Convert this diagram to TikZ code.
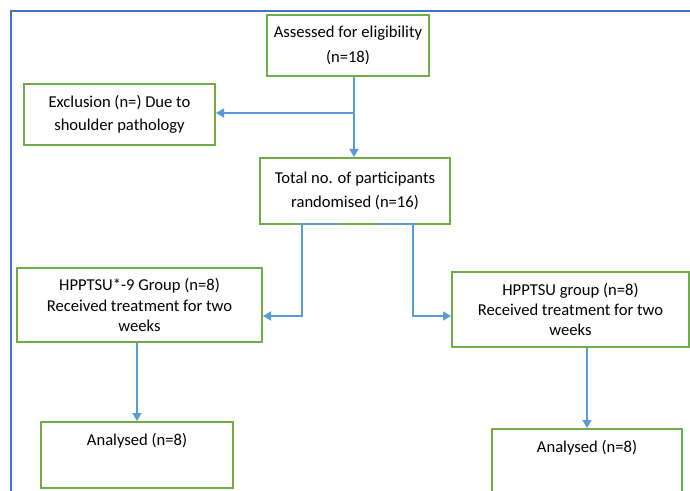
\documentclass[tikz,border=0pt]{standalone}
\usepackage{fontspec}
\setmainfont{Carlito}
\usepackage{xcolor}
\usetikzlibrary{shapes,arrows.meta,positioning}
\definecolor{boxgreen}{HTML}{70AD47}
\definecolor{linkblue}{HTML}{5B9BD5}
\definecolor{pageblue}{HTML}{4472C4}

\begin{document}
\begin{tikzpicture}[
    x=0.5pt, y=-0.5pt,
    stage/.style={rectangle, draw=boxgreen, line width=1pt, align=center, inner sep=0pt, font=\fontsize{8.3}{10.2}\selectfont},
    link/.style={color=linkblue, line width=0.75pt, -{Triangle[length=4pt,width=4.5pt]}}]
    \useasboundingbox (0,0) rectangle (690,491);
    \clip (0,0) rectangle (690,491);
    \draw[pageblue, line width=1pt] (11,530) |- (720,11);
    \node[stage, minimum width=81pt, minimum height=30.5pt] (assessed) at (348,45.5) {Assessed for eligibility\\[2.3pt](n=18)};
    \node[stage, minimum width=95.5pt, minimum height=30.5pt] (excluded) at (119.5,114.5) {Exclusion (n=) Due to\\[1.3pt]shoulder pathology};
    \node[stage, minimum width=95pt, minimum height=33pt] (randomised) at (355,191) {Total no. of participants\\[1.8pt]randomised (n=16)};
    \node[stage, minimum width=122.5pt, minimum height=37pt] (group1) at (139.5,305) {HPPTSU*-9 Group (n=8)\\Received treatment for two\\weeks};
    \node[stage, minimum width=118.5pt, minimum height=37.5pt] (group2) at (570.5,309.5) {HPPTSU group (n=8)\\Received treatment for two\\weeks};
    \node[stage, minimum width=96pt, minimum height=33pt] (analysed1) at (137,455) {Analysed (n=8)\\[5pt]\mbox{}};
    \node[stage, minimum width=95pt, minimum height=33pt] (analysed2) at (587,462) {Analysed (n=8)\\[5pt]\mbox{}};
    \coordinate (split) at (354,113);
    \coordinate (leftstub) at (338,224);
    \coordinate (rightstub) at (378,224);
    \coordinate (leftturn) at (302,316);
    \coordinate (rightturn) at (413,316);
    \draw[link] (assessed.south -| split) -- (randomised.north -| split);
    \draw[link] (split) -- (excluded.east |- split);
    \draw[link] (leftstub) -| (leftturn) -- (leftturn -| group1.east);
    \draw[link] (rightstub) -| (rightturn) -- (rightturn -| group2.west);
    \draw[link] (group1.south -| analysed1.north) -- (analysed1.north);
    \draw[link] (group2.south -| analysed2.north) -- (analysed2.north);
\end{tikzpicture}
\end{document}
